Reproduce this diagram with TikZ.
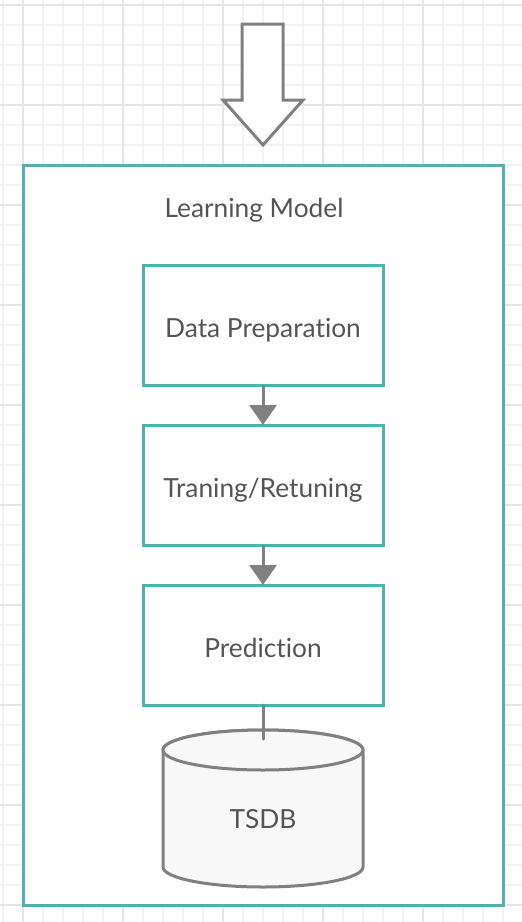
\documentclass[tikz,border=0pt]{standalone}
\usepackage{fontspec}
\setmainfont[Ligatures={NoCommon}]{Lato}
\usetikzlibrary{arrows.meta}

\definecolor{boxteal}{RGB}{86,174,174}
\definecolor{linegray}{RGB}{128,128,128}
\definecolor{textgray}{RGB}{84,84,84}
\definecolor{gridmajor}{RGB}{229,229,229}
\definecolor{gridminor}{RGB}{243,243,243}
\definecolor{dbfill}{RGB}{248,248,248}

\tikzset{
  stagebox/.style={draw=boxteal,line width=3pt,fill=white,
    minimum width=240pt,minimum height=120pt,outer sep=0pt,
    text=textgray,font=\fontsize{26.3pt}{30pt}\selectfont,
    text height=24pt,text depth=0pt},
  flow/.style={draw=linegray,line width=3pt,
    -{Triangle[length=20pt,width=27pt]}},
  plaintext/.style={anchor=base,text=textgray,
    font=\fontsize{26.3pt}{30pt}\selectfont}
}

\begin{document}
\begin{tikzpicture}[x=1pt,y=-1pt]
    \useasboundingbox (0,0) rectangle (522,922);
    \fill[white] (0,0) rectangle (522,922);

    % Background grid
    \foreach \gx in {3,23,...,523}
        \draw[gridminor,line width=1.2pt] (\gx,0) -- (\gx,922);
    \foreach \gy in {5,25,...,925}
        \draw[gridminor,line width=1.2pt] (0,\gy) -- (522,\gy);
    \foreach \gx in {23,123,...,423}
        \draw[gridmajor,line width=1.6pt] (\gx,0) -- (\gx,922);
    \foreach \gy in {5,105,...,905}
        \draw[gridmajor,line width=1.6pt] (0,\gy) -- (522,\gy);

    % Input arrow
    \draw[linegray,line width=3pt,fill=white,line join=miter]
        (242,24) -- (283,24) -- (283,100) -- (303,100) -- (263,145)
        -- (223,100) -- (242,100) -- cycle;

    % Learning model frame
    \node[draw=boxteal,line width=3pt,fill=white,minimum width=480pt,
          minimum height=740pt,outer sep=0pt] (model) at (263,535) {};
    \node[plaintext] (title) at (254,217) {Learning Model};

    % Stages
    \node[stagebox] (prep) at (263,325) {Data Preparation};
    \node[stagebox] (train) at (263,485) {Traning/Retuning};
    \node[stagebox] (pred) at (263,645) {Prediction};

    \draw[flow] (prep) -- (train);
    \draw[flow] (train) -- (pred);

    % TSDB cylinder
    \draw[linegray,line width=3pt,fill=dbfill]
        (163,750) -- (163,867) arc[start angle=180,end angle=0,x radius=100,y radius=20]
        -- (363,750) arc[start angle=0,end angle=-180,x radius=100,y radius=20] -- cycle;
    \draw[linegray,line width=3pt,fill=dbfill] (263,750) ellipse[x radius=100,y radius=20];
    \node[plaintext] (db) at (263,828) {TSDB};

    % Link to storage
    \coordinate (dbtop) at (263,739);
    \draw[linegray,line width=3pt,line cap=round] (pred) -- (dbtop);
\end{tikzpicture}
\end{document}
